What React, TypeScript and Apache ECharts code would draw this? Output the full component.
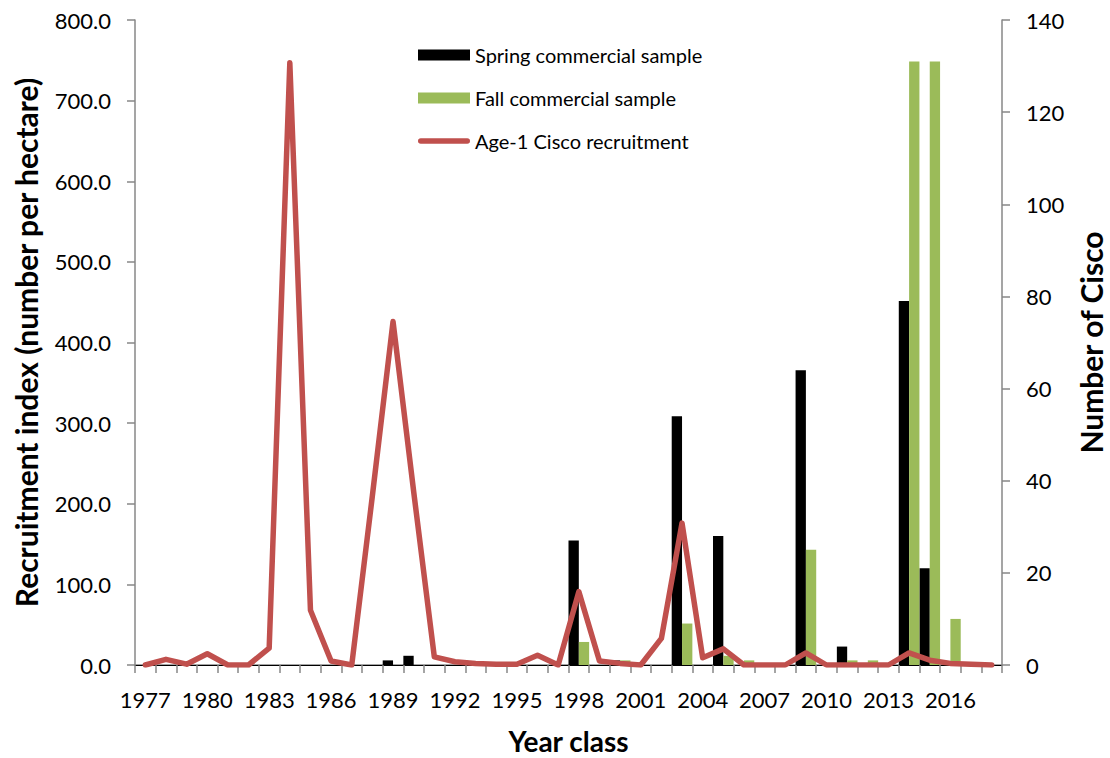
import React, { useEffect, useRef } from "react";
import * as echarts from "echarts";

const years: string[] = [];
for (let y = 1977; y <= 2018; y++) years.push(String(y));

// Age-1 Cisco recruitment (number per hectare), 1977..2018
const recruitment = [
  0, 7, 1, 14, 0, 0, 21, 747, 68, 5,
  0, 210, 426, 215, 10, 4, 2, 1, 1, 12,
  0, 91, 5, 2, 0, 33, 176, 9, 20, 0,
  0, 0, 15, 0, 0, 0, 0, 15, 6, 2,
  1, 0,
];

// Spring commercial sample (number of Cisco), 1977..2018
const spring = [
  0, 0, 0, 0, 0, 0, 0, 0, 0, 0,
  0, 0, 1, 2, 0, 0, 0.5, 0, 0, 0,
  0, 27, 0, 1, 0, 0, 54, 0, 28, 0,
  0, 0, 64, 0, 4, 0, 0, 79, 21, 0,
  0, 0,
];

// Fall commercial sample (number of Cisco), 1977..2018
const fall = [
  0, 0, 0, 0, 0, 0, 0, 0, 0, 0,
  0, 0, 0, 0, 0, 0, 0, 0, 0, 0,
  0, 5, 0, 1, 0, 0, 9, 0, 2, 1,
  0, 0, 25, 0, 1, 1, 0, 131, 131, 10,
  0, 0,
];

const FONT = "Lato";
const AXIS_GRAY = "#878787";
const RED = "#C0504D";
// thin rounded bar centred in a 52x11 box (the two moveTo points fix the box)
const LINE_ICON =
  "path://M0,0 M52,11 M2.75,2.75 L49.25,2.75 A2.75,2.75 0 0 1 49.25,8.25 L2.75,8.25 A2.75,2.75 0 0 1 2.75,2.75 Z";

export default function App() {
  const ref = useRef<HTMLDivElement>(null);

  useEffect(() => {
    if (!ref.current) return;
    const chart = echarts.init(ref.current, undefined, { renderer: "svg" });
    const axisLine = { show: true, lineStyle: { color: AXIS_GRAY, width: 1.5 } };
    const titleStyle = { fontFamily: FONT, fontSize: 30, fontWeight: "bold", color: "#000" };
    chart.setOption({
      animation: false,
      backgroundColor: "#ffffff",
      textStyle: { fontFamily: FONT },
      grid: {
        left: 135,
        right: 108,
        top: 20,
        bottom: 93,
        containLabel: false,
        outerBoundsMode: "none",
      },
      legend: {
        orient: "vertical",
        left: 418,
        top: 45,
        padding: 0,
        itemWidth: 52,
        itemHeight: 11,
        itemGap: 23,
        textStyle: { fontFamily: FONT, fontSize: 20, color: "#000" },
        data: [
          { name: "Spring commercial sample", icon: "rect" },
          { name: "Fall commercial sample", icon: "rect" },
          { name: "Age-1 Cisco recruitment", icon: LINE_ICON, itemStyle: { color: RED } },
        ],
      },
      xAxis: [
        {
          type: "category",
          data: years,
          boundaryGap: true,
          axisLine,
          axisTick: {
            show: true,
            interval: 0,
            length: 8,
            lineStyle: { color: AXIS_GRAY, width: 1.5 },
          },
          axisLabel: {
            interval: 2,
            fontFamily: FONT,
            fontSize: 22,
            color: "#000",
            margin: 23,
          },
          splitLine: { show: false },
          name: "Year class",
          nameLocation: "middle",
          nameGap: 62,
          nameTextStyle: { ...titleStyle, fontSize: 28 },
        },
        {
          type: "category",
          data: years,
          position: "top",
          axisLine: { show: true, lineStyle: { color: "#000", width: 1 } },
          axisTick: { show: false },
          axisLabel: { show: false },
          splitLine: { show: false },
        },
      ],
      yAxis: [
        {
          type: "value",
          min: 0,
          max: 800,
          interval: 100,
          position: "left",
          axisLine,
          axisTick: { show: true, length: 8, lineStyle: { color: AXIS_GRAY, width: 1.5 } },
          axisLabel: {
            fontFamily: FONT,
            fontSize: 22,
            color: "#000",
            margin: 24,
            formatter: (v: number) => v.toFixed(1),
          },
          splitLine: { show: false },
          name: "Recruitment index (number per hectare)",
          nameLocation: "middle",
          nameRotate: 90,
          nameGap: 94,
          nameTextStyle: titleStyle,
        },
        {
          type: "value",
          min: 0,
          max: 140,
          interval: 20,
          position: "right",
          axisLine,
          axisTick: { show: true, length: 8, lineStyle: { color: AXIS_GRAY, width: 1.5 } },
          axisLabel: { fontFamily: FONT, fontSize: 22, color: "#000", margin: 24 },
          splitLine: { show: false },
          name: "Number of Cisco",
          nameLocation: "middle",
          nameRotate: 90,
          nameGap: 74,
          nameTextStyle: titleStyle,
        },
      ],
      series: [
        {
          name: "Spring commercial sample",
          type: "bar",
          xAxisIndex: 0,
          yAxisIndex: 1,
          data: spring,
          barGap: "0%",
          barCategoryGap: "0%",
          itemStyle: { color: "#000000" },
        },
        {
          name: "Fall commercial sample",
          type: "bar",
          xAxisIndex: 0,
          yAxisIndex: 1,
          data: fall,
          barGap: "0%",
          barCategoryGap: "0%",
          itemStyle: { color: "#9BBB59" },
        },
        {
          name: "Age-1 Cisco recruitment",
          type: "line",
          xAxisIndex: 0,
          yAxisIndex: 0,
          data: recruitment,
          symbol: "none",
          showSymbol: false,
          lineStyle: { color: RED, width: 5.5, cap: "round", join: "round" },
          itemStyle: { color: RED },
          z: 5,
        },
      ],
    });
    return () => chart.dispose();
  }, []);

  return (
    <div
      ref={ref}
      style={{ position: "absolute", left: 0, top: 0, width: 1110, height: 758 }}
    />
  );
}
